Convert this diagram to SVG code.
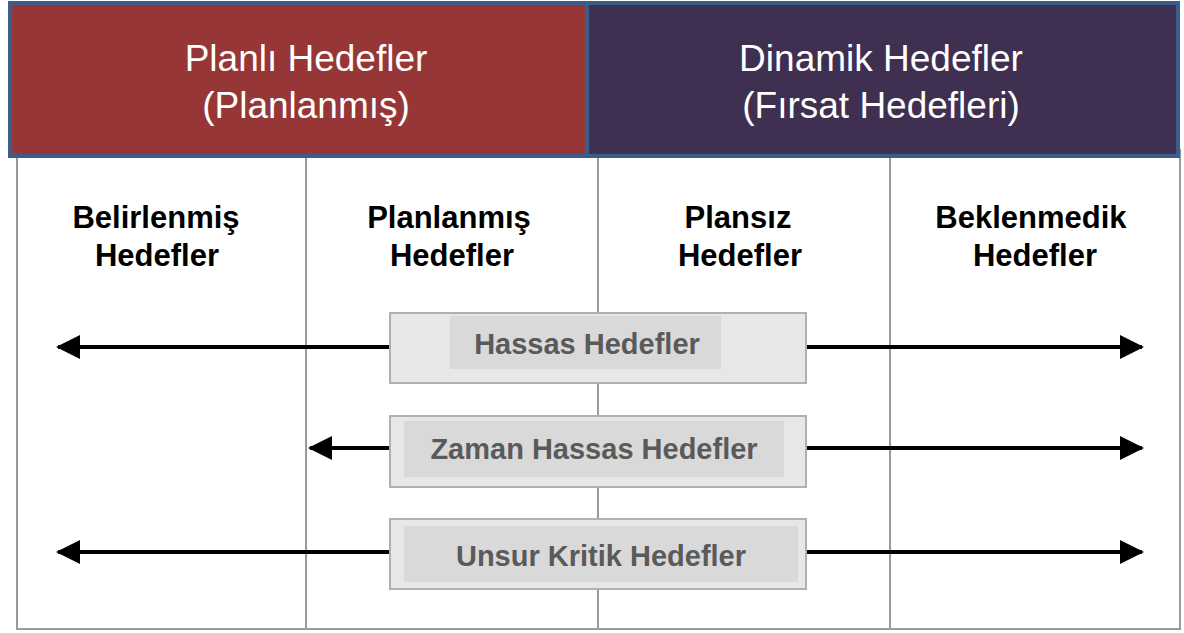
<svg xmlns="http://www.w3.org/2000/svg" width="1184" height="633" viewBox="0 0 1184 633">
<defs>
<style>
.hdr{font-family:"Liberation Sans",Arial,sans-serif;font-size:37px;fill:#ffffff;text-anchor:middle}
.col{font-family:"Liberation Sans",Arial,sans-serif;font-size:31px;font-weight:bold;fill:#000;text-anchor:middle}
.box{font-family:"Liberation Sans",Arial,sans-serif;font-size:29px;font-weight:bold;fill:#5a5a5a;text-anchor:middle}
.grid{stroke:#9a9a9a;stroke-width:2;fill:none}
.outer{fill:#e6e7e9;stroke:#b0b0b0;stroke-width:2}
.inner{fill:#d9d9d9}
.arr{stroke:#000;stroke-width:4;fill:none;marker-end:url(#ah)}
</style>
<marker id="ah" markerWidth="6" markerHeight="6" refX="5.5" refY="3" orient="auto" markerUnits="strokeWidth" viewBox="0 0 6 6">
<path d="M0,0 L6,3 L0,6 z" fill="#000"/>
</marker>
</defs>
<rect width="1184" height="633" fill="#ffffff"/>
<g id="grid">
<rect class="grid" x="17" y="150" width="1163" height="479"/>
<line class="grid" x1="306" y1="157" x2="306" y2="629"/>
<line class="grid" x1="598" y1="157" x2="598" y2="629"/>
<line class="grid" x1="890" y1="157" x2="890" y2="629"/>
</g>
<g id="planli">
<rect x="10" y="3" width="577" height="153" fill="#963636" stroke="#3b5d8a" stroke-width="4"/>
<text class="hdr" x="306" y="71">Planlı Hedefler</text>
<text class="hdr" x="306" y="118">(Planlanmış)</text>
</g>
<g id="dinamik">
<rect x="587" y="3" width="591" height="153" fill="#3f2f50" stroke="#3b5d8a" stroke-width="4"/>
<text class="hdr" x="881" y="71">Dinamik Hedefler</text>
<text class="hdr" x="881" y="118">(Fırsat Hedefleri)</text>
</g>
<g id="belirlenmis">
<text class="col" x="156" y="228">Belirlenmiş</text>
<text class="col" x="157" y="266">Hedefler</text>
</g>
<g id="planlanmis">
<text class="col" x="449" y="228">Planlanmış</text>
<text class="col" x="452" y="266">Hedefler</text>
</g>
<g id="plansiz">
<text class="col" x="738" y="228">Plansız</text>
<text class="col" x="740" y="266">Hedefler</text>
</g>
<g id="beklenmedik">
<text class="col" x="1031" y="228">Beklenmedik</text>
<text class="col" x="1035" y="266">Hedefler</text>
</g>
<g id="connectors">
<line class="arr" x1="390" y1="347" x2="58" y2="347"/>
<line class="arr" x1="806" y1="347" x2="1142" y2="347"/>
<line class="arr" x1="390" y1="448" x2="310" y2="448"/>
<line class="arr" x1="806" y1="448" x2="1142" y2="448"/>
<line class="arr" x1="390" y1="552" x2="58" y2="552"/>
<line class="arr" x1="806" y1="552" x2="1142" y2="552"/>
</g>
<g id="hassas">
<rect class="outer" x="390" y="313" width="416" height="70"/>
<rect class="inner" x="450" y="316" width="271" height="53"/>
<text class="box" x="587" y="354">Hassas Hedefler</text>
</g>
<g id="zaman">
<rect class="outer" x="390" y="416" width="416" height="71"/>
<rect class="inner" x="404" y="421" width="380" height="56"/>
<text class="box" x="594" y="459">Zaman Hassas Hedefler</text>
</g>
<g id="unsur">
<rect class="outer" x="390" y="519" width="416" height="70"/>
<rect class="inner" x="404" y="526" width="394" height="56"/>
<text class="box" x="601" y="566">Unsur Kritik Hedefler</text>
</g>
</svg>
